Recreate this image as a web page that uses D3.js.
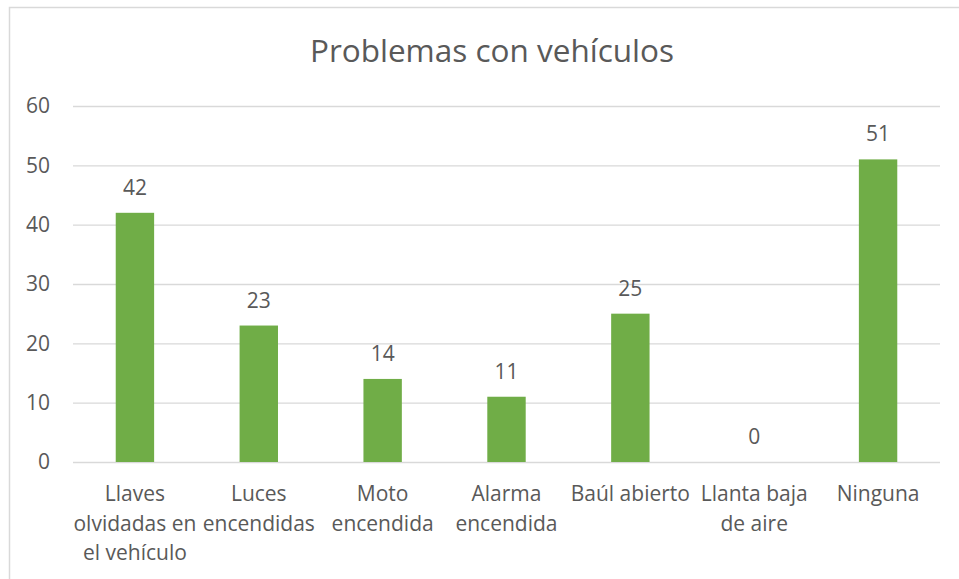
<!DOCTYPE html>
<html lang="es">
<head>
<meta charset="utf-8">
<title>Problemas con vehículos</title>
<script src="https://cdn.jsdelivr.net/npm/d3@7"></script>
<style>
  body { margin: 0; background: #fff; }
  text { font-family: "Open Sans", sans-serif; fill: #595959; }
  .grid line { stroke: #d9d9d9; stroke-width: 1.3; }
  .grid path { display: none; }
  .yaxis path, .yaxis line { display: none; }
  .yaxis text { font-size: 21px; }
  .xlab { font-size: 21px; }
  .val { font-size: 21px; }
</style>
</head>
<body>
<script>
// datos
var categories = ["Llaves olvidadas en el vehículo", "Luces encendidas", "Moto encendida",
                  "Alarma encendida", "Baúl abierto", "Llanta baja de aire", "Ninguna"]
var values = [42, 23, 14, 11, 25, 0, 51]
var yTicks = [0, 10, 20, 30, 40, 50, 60]
var title = "Problemas con vehículos"

var w = 959, h = 579
var plotLeft = 73, plotRight = 940, plotTop = 106, plotBottom = 462

var svg = d3.select("body").append("svg")
  .attr("width", w).attr("height", h)

// borde del gráfico
svg.append("path")
  .attr("d", "M9.5," + h + "V7.5H" + w)
  .attr("fill", "none")
  .attr("stroke", "#d9d9d9")
  .attr("stroke-width", 1.5)

var x = d3.scaleBand()
  .domain(categories)
  .range([plotLeft, plotRight])
  .paddingInner(0.69)
  .paddingOuter(0.345)

var y = d3.scaleLinear()
  .domain([0, 60])
  .range([plotBottom, plotTop])

// líneas de cuadrícula
svg.append("g")
  .attr("class", "grid")
  .attr("transform", "translate(" + plotLeft + ",0)")
  .call(d3.axisRight(y).tickValues(yTicks).tickSize(plotRight - plotLeft).tickFormat(""))

// eje y
svg.append("g")
  .attr("class", "yaxis")
  .attr("transform", "translate(" + (plotLeft - 23) + ",0)")
  .call(d3.axisLeft(y).tickValues(yTicks).tickSize(0).tickPadding(0))

// barras
svg.selectAll("rect.bar")
  .data(values)
  .enter()
  .append("rect")
  .attr("class", "bar")
  .attr("x", function(d, i) { return x(categories[i]) })
  .attr("width", x.bandwidth())
  .attr("y", function(d) { return y(d) })
  .attr("height", function(d) { return y(0) - y(d) })
  .attr("fill", "#70ad47")

// etiquetas de valores
svg.selectAll("text.val")
  .data(values)
  .enter()
  .append("text")
  .attr("class", "val")
  .attr("x", function(d, i) { return x(categories[i]) + x.bandwidth() / 2 })
  .attr("y", function(d) { return y(d) - 18 })
  .attr("text-anchor", "middle")
  .text(function(d) { return d })

// etiquetas de categorías (con ajuste de línea)
var step = x.step()
categories.forEach(function(c, i) {
  var t = svg.append("text")
    .attr("class", "xlab")
    .attr("text-anchor", "middle")
  var cx = x(c) + x.bandwidth() / 2
  var words = c.split(" "), lines = [], cur = ""
  words.forEach(function(wd) {
    var test = cur ? cur + " " + wd : wd
    t.text(test)
    if (cur && t.node().getComputedTextLength() > step) {
      lines.push(cur)
      cur = wd
    } else {
      cur = test
    }
  })
  lines.push(cur)
  t.text(null)
  lines.forEach(function(l, j) {
    t.append("tspan").attr("x", cx).attr("y", plotBottom + 39 + j * 29.5).text(l)
  })
})

// título
svg.append("text")
  .attr("x", 492)
  .attr("y", 62)
  .attr("text-anchor", "middle")
  .attr("font-size", 31.5)
  .text(title)
</script>
</body>
</html>
